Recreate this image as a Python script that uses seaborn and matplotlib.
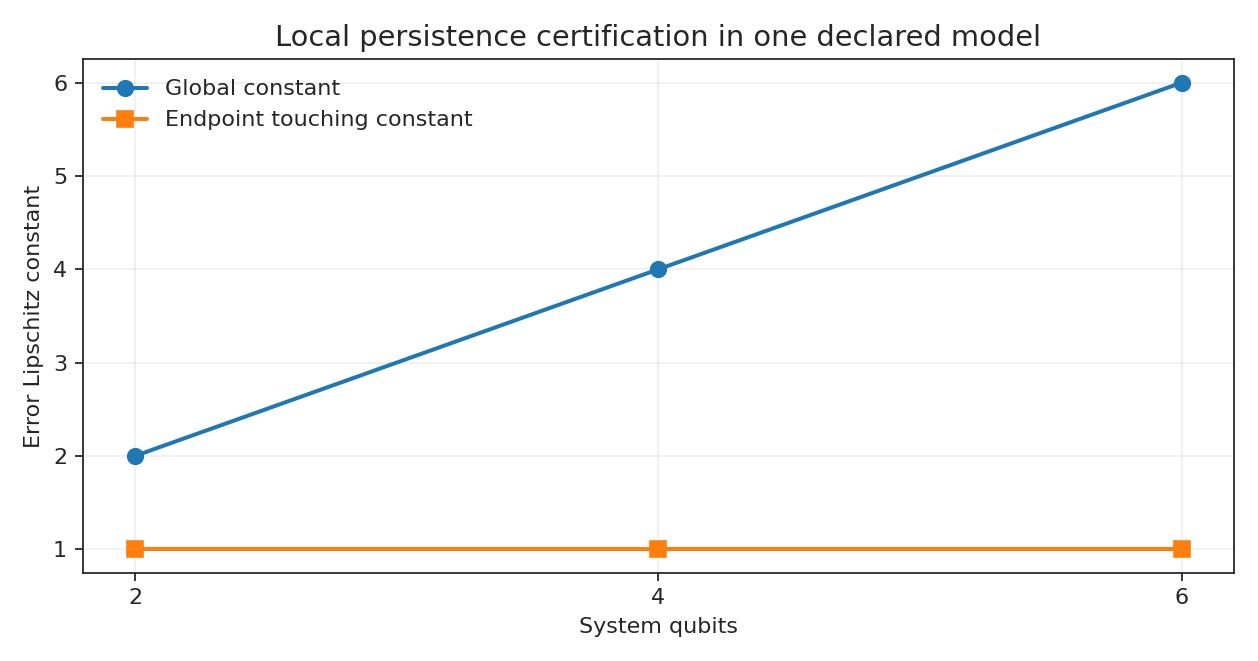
import matplotlib
matplotlib.use("Agg")
import matplotlib.pyplot as plt
import seaborn as sns
import pandas as pd

# data
qubits = [2, 4, 6]
global_const = [2, 4, 6]
endpoint_const = [1, 1, 1]

sns.set_style("ticks")
plt.rcParams['font.family'] = ['DejaVu Sans']

fig, ax = plt.subplots(figsize=(1258 / 160, 661 / 160), dpi=160)

df = pd.DataFrame({"qubits": qubits, "global": global_const, "endpoint": endpoint_const})
sns.lineplot(data=df, x="qubits", y="global", marker="o", markersize=7, color="#1f77b4",
             markeredgecolor="#1f77b4", linewidth=1.8, label="Global constant", ax=ax)
sns.lineplot(data=df, x="qubits", y="endpoint", marker="s", markersize=7, color="#ff7f0e",
             markeredgecolor="#ff7f0e", linewidth=1.8, label="Endpoint touching constant", ax=ax)

ax.set_xticks(qubits)
ax.set_xlabel("System qubits")
ax.set_ylabel("Error Lipschitz constant")
ax.set_title("Local persistence certification in one declared model", fontsize=13)
ax.grid(True, alpha=0.3)
ax.legend(loc="upper left", frameon=False)

fig.tight_layout()
fig.savefig("out.png", dpi=160)
